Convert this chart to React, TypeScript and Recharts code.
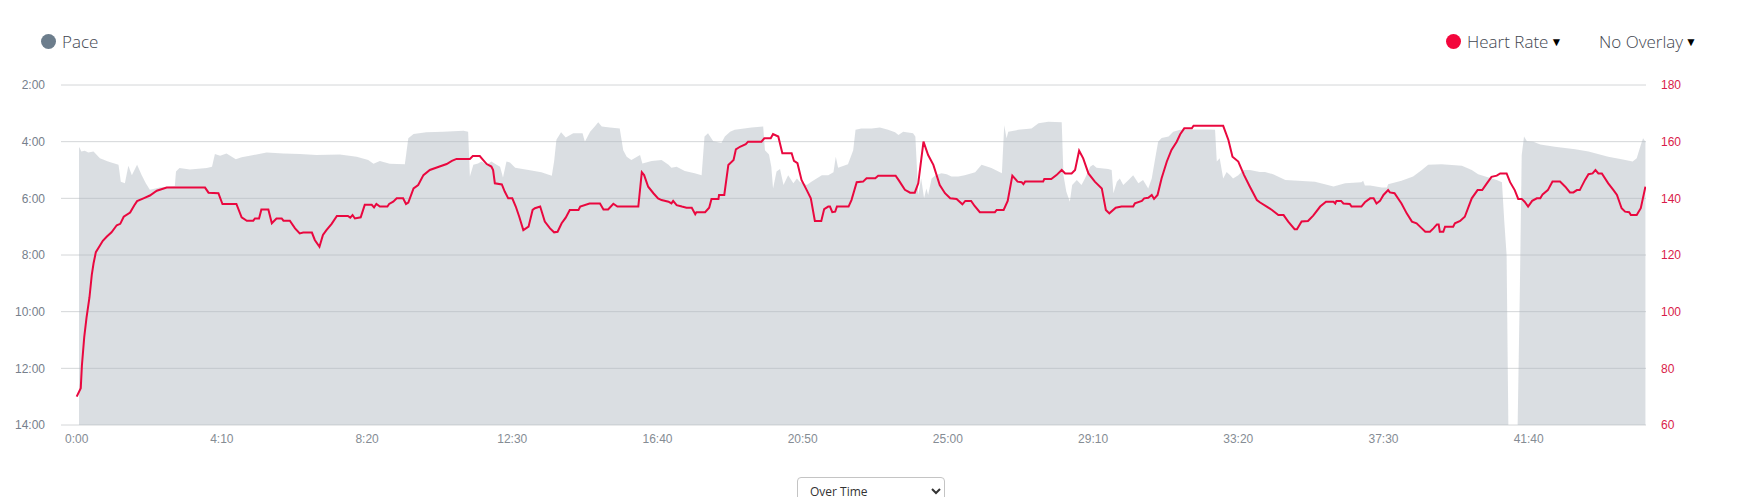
import React from "react";
import { ComposedChart, Area, Line, XAxis, YAxis, CartesianGrid } from "recharts";

const TIME_TICKS = [0, 250, 500, 750, 1000, 1250, 1500, 1750, 2000, 2250, 2500];
const PACE_TICKS = [120, 240, 360, 480, 600, 720, 840];
const HR_TICKS = [60, 80, 100, 120, 140, 160, 180];

// [elapsed s, pace s/km]
const PACE_SAMPLES = [
  [4, 252], [5, 253], [8, 261], [14, 259], [20, 263], [29, 261], [40, 275], [54, 282], [72, 289],
  [76, 325], [83, 328], [89, 291], [95, 311], [104, 289], [112, 311], [119, 328], [126, 342],
  [143, 337], [169, 334], [171, 303], [177, 296], [195, 299], [224, 296], [233, 293], [238, 266],
  [247, 270], [258, 265], [274, 277], [284, 273], [298, 270], [327, 263], [356, 265], [384, 266],
  [413, 268], [453, 267], [482, 272], [502, 279], [511, 287], [522, 281], [539, 287], [565, 288],
  [571, 233], [580, 224], [602, 220], [631, 219], [666, 217], [674, 219], [677, 314], [683, 289],
  [691, 286], [697, 282], [706, 289], [714, 282], [723, 289], [729, 293], [734, 316], [740, 282],
  [746, 284], [755, 295], [778, 300], [800, 305], [818, 312], [822, 282], [826, 236], [834, 220],
  [842, 231], [855, 222], [871, 222], [875, 240], [884, 219], [892, 208], [898, 199], [904, 208],
  [918, 210], [935, 212], [941, 258], [947, 272], [955, 279], [970, 268], [974, 286], [990, 281],
  [1007, 279], [1019, 289], [1024, 295], [1033, 293], [1047, 302], [1064, 307], [1076, 311],
  [1081, 229], [1087, 222], [1096, 239], [1110, 243], [1116, 229], [1125, 219], [1133, 215],
  [1162, 210], [1182, 208], [1185, 258], [1192, 267], [1196, 293], [1199, 339], [1205, 303],
  [1211, 298], [1217, 332], [1225, 311], [1234, 328], [1240, 318], [1245, 325], [1257, 332],
  [1265, 325], [1274, 318], [1283, 311], [1294, 311], [1303, 305], [1307, 272], [1311, 295],
  [1328, 288], [1337, 258], [1341, 215], [1351, 212], [1369, 212], [1383, 210], [1397, 215],
  [1409, 220], [1415, 226], [1423, 219], [1440, 222], [1444, 229], [1449, 353], [1454, 318],
  [1459, 360], [1463, 339], [1466, 353], [1472, 318], [1479, 311], [1489, 307], [1498, 309],
  [1506, 314], [1518, 314], [1529, 311], [1547, 305], [1558, 289], [1575, 296], [1593, 307],
  [1597, 205], [1601, 233], [1604, 219], [1621, 215], [1644, 212], [1656, 201], [1673, 198],
  [1696, 199], [1699, 311], [1704, 346], [1710, 367], [1714, 332], [1722, 321], [1730, 332],
  [1736, 318], [1745, 293], [1750, 289], [1756, 295], [1776, 298], [1782, 300], [1785, 349],
  [1791, 325], [1796, 318], [1802, 332], [1811, 321], [1819, 311], [1828, 328], [1836, 321],
  [1845, 339], [1851, 318], [1857, 275], [1862, 240], [1868, 232], [1880, 229], [1888, 219],
  [1900, 215], [1920, 214], [1948, 214], [1960, 215], [1963, 282], [1968, 275], [1974, 318],
  [1980, 304], [1986, 311], [1991, 318], [2000, 311], [2009, 300], [2020, 300], [2037, 304],
  [2046, 304], [2060, 309], [2081, 321], [2103, 323], [2132, 325], [2149, 330], [2164, 335],
  [2184, 328], [2212, 326], [2215, 323], [2218, 333], [2227, 333], [2247, 337], [2256, 337],
  [2258, 330], [2281, 323], [2301, 314], [2316, 300], [2327, 289], [2350, 288], [2385, 291],
  [2402, 300], [2413, 309], [2431, 316], [2445, 321], [2454, 326], [2458, 409], [2462, 480],
  [2465, 840], [2481, 840], [2485, 536], [2488, 268], [2492, 229], [2497, 239], [2508, 240],
  [2520, 246], [2545, 251], [2580, 256], [2603, 261], [2637, 272], [2660, 277], [2679, 282],
  [2686, 275], [2693, 247], [2697, 233], [2701, 240],
];

// [elapsed s, bpm]
const HR_SAMPLES = [
  [0, 70], [7, 73], [9, 81], [13, 91], [17, 98], [22, 105], [26, 113], [29, 117], [33, 121],
  [39, 123], [45, 125], [52, 126.5], [60, 128], [69, 130.5], [75, 131], [81, 133.5], [92, 135],
  [99, 137.5], [104, 139], [115, 140], [126, 141], [138, 142.7], [155, 143.8], [221, 143.8],
  [227, 142], [244, 141.8], [251, 138], [275, 138], [284, 133.3], [293, 132.1], [304, 132.1],
  [307, 132.9], [314, 132.9], [318, 136.1], [330, 136.1], [336, 131.2], [344, 132.9], [353, 132.9],
  [356, 132.1], [367, 132.1], [376, 129.4], [384, 127.6], [390, 127.9], [405, 127.9], [410, 125.3],
  [418, 122.9], [424, 127.1], [430, 128.8], [439, 131], [448, 133.8], [467, 133.8], [471, 133.2],
  [475, 134.1], [479, 132.9], [489, 133.3], [496, 137.7], [508, 137.7], [512, 136.8], [516, 138],
  [522, 137.1], [535, 137.1], [538, 138], [545, 138.8], [551, 140], [562, 140], [567, 138],
  [571, 138.5], [580, 143.5], [588, 144.7], [597, 148.2], [608, 150], [620, 150.9], [637, 152.1],
  [646, 153.2], [654, 153.9], [677, 153.9], [682, 154.9], [694, 154.9], [700, 153.5], [706, 152.1],
  [714, 151.2], [717, 150], [720, 145.3], [732, 144.9], [737, 142.4], [743, 140], [750, 140],
  [756, 137.1], [762, 133.5], [769, 128.8], [778, 130], [785, 135.9], [789, 136.5], [798, 137.1],
  [806, 131.8], [815, 129.4], [822, 128], [828, 128.2], [835, 131.2], [842, 133.2], [849, 135.9],
  [864, 135.9], [867, 137.1], [883, 138.2], [901, 138.2], [907, 136.1], [915, 136.1], [924, 138.1],
  [931, 137.1], [967, 137.1], [973, 149.2], [977, 148.2], [984, 144.1], [993, 141.8], [1001, 140],
  [1007, 139.4], [1019, 138.8], [1024, 138.2], [1027, 139.1], [1033, 137.6], [1042, 137.1],
  [1050, 136.7], [1059, 136.7], [1065, 134.4], [1067, 135.1], [1082, 135.1], [1089, 136.7],
  [1093, 139.8], [1105, 139.8], [1106, 141.2], [1115, 141.2], [1122, 151.8], [1131, 153.5],
  [1135, 157.3], [1142, 158.2], [1152, 159.1], [1156, 160], [1179, 160], [1184, 161.2],
  [1195, 161.2], [1199, 162.7], [1208, 161.8], [1215, 155.9], [1231, 155.9], [1235, 153.2],
  [1241, 152.4], [1248, 146.5], [1257, 142.9], [1264, 140], [1271, 132], [1282, 132], [1287, 136.2],
  [1294, 137.1], [1297, 137.1], [1301, 135.1], [1306, 135.3], [1309, 137.1], [1329, 137.1],
  [1334, 139.4], [1343, 145.7], [1354, 145.9], [1360, 147.1], [1375, 147.1], [1380, 148],
  [1410, 148], [1415, 146.5], [1426, 143], [1435, 142], [1443, 142], [1449, 145.3], [1458, 160],
  [1466, 155.3], [1475, 151.8], [1486, 144.7], [1495, 141.8], [1504, 140], [1515, 139.8],
  [1525, 137.9], [1530, 139.1], [1540, 139.1], [1546, 137.3], [1555, 135.1], [1581, 135.1],
  [1584, 135.9], [1596, 135.9], [1603, 139.1], [1611, 148], [1620, 145.9], [1627, 145.7],
  [1630, 145], [1633, 145.9], [1664, 145.9], [1666, 146.8], [1678, 146.8], [1687, 148.2],
  [1696, 150], [1702, 148.8], [1713, 148.8], [1719, 150], [1726, 156.8], [1733, 154.1],
  [1742, 148.8], [1753, 145.9], [1765, 143.5], [1772, 135.9], [1778, 134.7], [1789, 136.7],
  [1799, 137.1], [1819, 137.1], [1822, 138.2], [1834, 139.1], [1838, 140], [1845, 140.2],
  [1851, 141.2], [1855, 139.8], [1861, 141.2], [1868, 147.1], [1877, 153], [1885, 157.1],
  [1894, 160], [1900, 162.6], [1907, 164.7], [1920, 164.7], [1923, 165.6], [1974, 165.6],
  [1983, 160.6], [1990, 154.7], [2000, 153], [2010, 148.2], [2020, 144.1], [2032, 139.4],
  [2037, 138.6], [2049, 137.1], [2058, 135.9], [2069, 134.1], [2078, 134.1], [2086, 131.8],
  [2097, 129.1], [2101, 129.1], [2109, 131.8], [2120, 132], [2129, 133.9], [2141, 137.1],
  [2151, 138.8], [2164, 138.8], [2167, 138.2], [2169, 139.1], [2177, 139.1], [2181, 138.2],
  [2192, 138], [2195, 137.1], [2212, 137.1], [2218, 138.6], [2227, 140], [2233, 140],
  [2238, 138.2], [2244, 139.1], [2250, 141.2], [2258, 142.9], [2261, 142.1], [2269, 141.8],
  [2281, 138.2], [2290, 134.7], [2299, 131.8], [2307, 131.2], [2316, 129.4], [2322, 128.2],
  [2330, 128.2], [2336, 129.4], [2342, 130.8], [2345, 130.8], [2347, 128.2], [2353, 128.2],
  [2356, 130], [2370, 130], [2373, 131.2], [2382, 132], [2390, 133.5], [2402, 140], [2412, 142.9],
  [2420, 142.9], [2428, 145.3], [2436, 147.6], [2445, 148], [2451, 148.8], [2462, 148.8],
  [2468, 145.7], [2476, 142.9], [2482, 139.8], [2488, 139.8], [2493, 138.8], [2499, 137.1],
  [2506, 139.1], [2514, 140], [2520, 140], [2524, 141.4], [2533, 142.9], [2541, 145.9],
  [2554, 145.9], [2563, 144.1], [2571, 142.1], [2577, 142.1], [2583, 142.9], [2588, 142.9],
  [2597, 146.5], [2603, 148.5], [2610, 148.8], [2615, 150], [2620, 148.8], [2626, 148.8],
  [2637, 145.3], [2646, 142.9], [2652, 141.2], [2660, 136.5], [2666, 135.3], [2673, 135.1],
  [2676, 134.1], [2686, 134.1], [2693, 136.5], [2701, 144.1],
];

const paceData = PACE_SAMPLES.map(([t, pace]) => ({ t, pace }));
const hrData = HR_SAMPLES.map(([t, hr]) => ({ t, hr }));

const clock = (v: number) =>
  `${Math.floor(v / 60)}:${String(Math.round(v % 60)).padStart(2, "0")}`;

const HR_RED = "#e9083f";
const tickFont = { fontFamily: "'Liberation Sans', Arial, sans-serif", fontSize: 12 };

function LegendItem({ x, dot, label, arrow }: { x: number; dot?: string; label: string; arrow?: boolean }) {
  return (
    <div
      style={{
        position: "absolute",
        left: x,
        top: 30,
        height: 22,
        display: "flex",
        alignItems: "center",
        fontFamily: "'Open Sans', sans-serif",
        fontWeight: 300,
        fontSize: 17,
        color: "#3f4650",
        whiteSpace: "nowrap",
      }}
    >
      {dot && (
        <span
          style={{
            width: 15,
            height: 15,
            borderRadius: "50%",
            background: dot,
            marginRight: 6,
            display: "inline-block",
          }}
        />
      )}
      {label}
      {arrow && <span style={{ fontSize: 12, marginLeft: 2, color: "#000" }}>▼</span>}
    </div>
  );
}

export default function App() {
  return (
    <div style={{ position: "absolute", left: 0, top: 0, width: 1738, height: 497, background: "#fff", overflow: "hidden" }}>
      <LegendItem x={41} dot="#6c7d8c" label="Pace" />
      <LegendItem x={1446} dot="#f3063c" label="Heart Rate" arrow />
      <LegendItem x={1599} label="No Overlay" arrow />

      <ComposedChart width={1738} height={497} margin={{ top: 85, right: 0, bottom: 0, left: 0 }}>
        <CartesianGrid yAxisId="pace" vertical={false} stroke="#d4d6d8" strokeWidth={1} />
        <XAxis
          dataKey="t"
          type="number"
          domain={[-27, 2702]}
          allowDataOverflow
          ticks={TIME_TICKS}
          tickFormatter={clock}
          height={72}
          axisLine={false}
          tickLine={false}
          tickSize={0}
          tickMargin={9}
          tick={{ ...tickFont, fill: "#858c94" }}
        />
        <YAxis
          yAxisId="pace"
          orientation="left"
          type="number"
          reversed
          domain={[120, 840]}
          ticks={PACE_TICKS}
          tickFormatter={clock}
          width={61}
          axisLine={false}
          tickLine={false}
          tickSize={0}
          tickMargin={16}
          tick={{ ...tickFont, fill: "#76808c" }}
        />
        <YAxis
          yAxisId="hr"
          orientation="right"
          type="number"
          domain={[60, 180]}
          ticks={HR_TICKS}
          width={92}
          axisLine={false}
          tickLine={false}
          tickSize={0}
          tickMargin={15}
          tick={{ ...tickFont, fill: "#d91c4a" }}
        />
        <Area
          yAxisId="pace"
          data={paceData}
          dataKey="pace"
          type="linear"
          baseValue={840}
          stroke="none"
          fill="#adb6bf"
          fillOpacity={0.45}
          isAnimationActive={false}
          dot={false}
          activeDot={false}
        />
        <Line
          yAxisId="hr"
          data={hrData}
          dataKey="hr"
          type="linear"
          stroke={HR_RED}
          strokeWidth={2}
          dot={false}
          activeDot={false}
          isAnimationActive={false}
        />
      </ComposedChart>

      <select
        defaultValue="time"
        style={{
          position: "absolute",
          left: 797,
          top: 477,
          width: 148,
          height: 28,
          fontFamily: "'Open Sans', sans-serif",
          fontSize: 12,
          color: "#333",
          border: "1px solid #c4c4c4",
          borderRadius: 4,
          background: "#fff",
          paddingLeft: 8,
        }}
      >
        <option value="time">Over Time</option>
        <option value="distance">Over Distance</option>
      </select>
    </div>
  );
}
